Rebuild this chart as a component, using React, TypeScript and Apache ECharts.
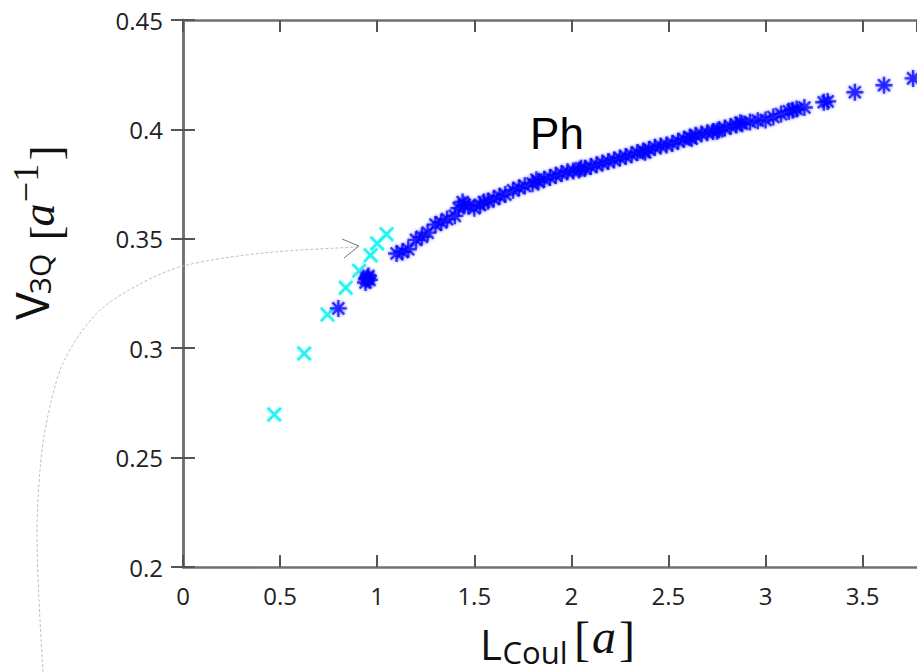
import React, { useEffect, useRef } from "react";
import * as echarts from "echarts";

// Cyan "x" markers
const cyanX = [0.47, 0.624, 0.744, 0.838, 0.907, 0.966, 1.0, 1.048];
const cyanY = [0.2697, 0.2976, 0.3154, 0.3276, 0.3354, 0.3425, 0.3479, 0.3521];

// Blue "*" markers (Ph)
const phX = [
  0.8, 0.94, 0.945, 0.95, 0.955, 0.96, 1.1, 1.13, 1.16, 1.2, 1.23, 1.26, 1.3, 1.33, 1.36, 1.4, 1.42,
  1.44, 1.45, 1.47, 1.5, 1.53, 1.55, 1.57, 1.6, 1.63, 1.66, 1.7, 1.73, 1.76, 1.8, 1.82, 1.83, 1.86,
  1.89, 1.92, 1.95, 1.98, 2.01, 2.04, 2.05, 2.07, 2.1, 2.13, 2.16, 2.19, 2.22, 2.25, 2.28, 2.31,
  2.34, 2.37, 2.38, 2.4, 2.43, 2.46, 2.49, 2.52, 2.55, 2.58, 2.61, 2.62, 2.64, 2.67, 2.7, 2.73,
  2.75, 2.76, 2.79, 2.82, 2.85, 2.87, 2.88, 2.92, 2.96, 3.0, 3.04, 3.08, 3.12, 3.14, 3.16, 3.2,
  3.3, 3.32, 3.46, 3.61, 3.76,
];
const phY = [
  0.3182, 0.33, 0.3315, 0.3322, 0.333, 0.3312, 0.3433, 0.344, 0.3452, 0.3495, 0.3509, 0.3528,
  0.3565, 0.3575, 0.359, 0.3605, 0.364, 0.3668, 0.3655, 0.365, 0.364, 0.3655, 0.3668, 0.3672,
  0.3682, 0.3695, 0.3702, 0.3722, 0.3732, 0.3742, 0.3752, 0.377, 0.376, 0.3772, 0.378, 0.379,
  0.3798, 0.3806, 0.381, 0.3814, 0.3822, 0.3822, 0.383, 0.3838, 0.3846, 0.3853, 0.386, 0.3869,
  0.3876, 0.3884, 0.3894, 0.3901, 0.3895, 0.3908, 0.3918, 0.3924, 0.3929, 0.3936, 0.3946, 0.3955,
  0.3964, 0.3958, 0.3973, 0.3979, 0.3985, 0.399, 0.3992, 0.3998, 0.4006, 0.4013, 0.402, 0.403,
  0.4026, 0.4034, 0.404, 0.4043, 0.4057, 0.407, 0.4083, 0.4088, 0.4093, 0.41, 0.4124, 0.4128,
  0.417, 0.4202, 0.4233,
];

const xMin = 0;
const xMax = 3.78;
const xStep = 0.5;
const yMin = 0.2;
const yMax = 0.45;
const yStep = 0.05;

const CROSS =
  "path://M-8.0,-6.1L6.1,8.0L8.0,6.1L-6.1,-8.0Z M-6.1,8.0L8.0,-6.1L6.1,-8.0L-8.0,6.1Z";
const STAR =
  "path://M-1.4,-10V10H1.4V-10Z M-10,-1.4V1.4H10V-1.4Z M-8.0,-6.0L6.0,8.0L8.0,6.0L-6.0,-8.0Z M-6.0,8.0L8.0,-6.0L6.0,-8.0L-8.0,6.0Z";

const axisGray = "#707070";

export default function App() {
  const ref = useRef<HTMLDivElement>(null);
  useEffect(() => {
    const chart = echarts.init(ref.current!, null, { renderer: "svg" });
    const tickLabel = { color: "#222", fontSize: 24, fontFamily: "Open Sans" };
    const xBase = {
      type: "value" as const,
      min: xMin,
      max: xMax,
      interval: xStep,
      splitLine: { show: false },
      axisLine: { show: true, lineStyle: { color: axisGray, width: 2.5 } },
      axisTick: { show: true, inside: true, length: 12, lineStyle: { color: "#555", width: 2 } },
    };
    const yBase = {
      type: "value" as const,
      min: yMin,
      max: yMax,
      interval: yStep,
      splitLine: { show: false },
      axisLine: { show: true, lineStyle: { color: axisGray, width: 2.5 } },
      axisTick: { show: true, inside: true, length: 12, lineStyle: { color: "#555", width: 2 } },
    };
    const serif = '"Liberation Serif", "Times New Roman", serif';
    const sans = '"Open Sans", sans-serif';
    const option = {
      animation: false,
      backgroundColor: "#fff",
      grid: { left: 183, top: 20, width: 735, height: 547, containLabel: false },
      xAxis: [
        {
          ...xBase,
          position: "bottom",
          axisLabel: { ...tickLabel, margin: 16, showMaxLabel: false },
        },
        { ...xBase, position: "top", axisLabel: { show: false } },
      ],
      yAxis: [
        { ...yBase, position: "left", axisLabel: { ...tickLabel, margin: 20 } },
        { ...yBase, position: "right", axisLabel: { show: false } },
      ],
      series: [
        {
          type: "scatter",
          name: "cyan",
          symbol: CROSS,
          symbolSize: 15,
          itemStyle: { color: "#1ef2f2", opacity: 0.95, shadowBlur: 2, shadowColor: "rgba(0,240,240,0.6)" },
          data: cyanX.map((x, i) => [x, cyanY[i]]),
          z: 2,
        },
        {
          type: "scatter",
          name: "Ph",
          symbol: STAR,
          symbolSize: 17,
          itemStyle: { color: "#0000ff", opacity: 0.72, shadowBlur: 3, shadowColor: "rgba(0,0,255,0.7)" },
          data: phX.map((x, i) => [x, phY[i]]),
          z: 3,
        },
      ],
      graphic: [
        {
          type: "polyline",
          silent: true,
          shape: {
            points: [
              [43, 672],
              [39, 600],
              [37, 530],
              [40, 470],
              [46, 425],
              [63, 363],
              [97, 313],
              [140, 284],
              [183, 266],
              [263, 253],
              [358, 247],
            ],
            smooth: 0.3,
          },
          style: { stroke: "#b8b8b8", lineWidth: 0.9, lineDash: [3, 2], fill: null },
          z: 10,
        },
        {
          type: "polyline",
          silent: true,
          shape: { points: [[342, 239], [359, 246], [344, 258]] },
          style: { stroke: "#777", lineWidth: 1, fill: null },
          z: 10,
        },
        {
          type: "text",
          silent: true,
          x: 557,
          y: 133,
          style: {
            text: "Ph",
            font: '44px "Liberation Sans", Arial, sans-serif',
            fill: "#000",
            align: "center",
            verticalAlign: "middle",
          },
          z: 10,
        },
        // x axis name: L_Coul[a]
        {
          type: "group",
          silent: true,
          children: [
            { type: "text", x: 491, y: 643, style: { text: "L", font: `42px ${sans}`, fill: "#111", align: "center", verticalAlign: "middle" } },
            { type: "text", x: 535, y: 652, style: { text: "Coul", font: `31px ${sans}`, fill: "#111", align: "center", verticalAlign: "middle" } },
            { type: "text", x: 582, y: 638, style: { text: "[", font: `48px ${serif}`, fill: "#111", align: "center", verticalAlign: "middle" } },
            { type: "text", x: 604, y: 636, style: { text: "a", font: `italic 48px ${serif}`, fill: "#111", align: "center", verticalAlign: "middle" } },
            { type: "text", x: 627, y: 638, style: { text: "]", font: `48px ${serif}`, fill: "#111", align: "center", verticalAlign: "middle" } },
          ],
        },
        // y axis name: V_3Q [a^-1]
        {
          type: "group",
          silent: true,
          x: 48,
          y: 330,
          rotation: Math.PI / 2,
          children: [
            { type: "text", x: 24, y: -17, style: { text: "V", font: `46px ${sans}`, fill: "#111", align: "center", verticalAlign: "middle" } },
            { type: "text", x: 56, y: -9, style: { text: "3Q", font: `30px ${sans}`, fill: "#111", align: "center", verticalAlign: "middle" } },
            { type: "text", x: 97, y: -2, style: { text: "[", font: `44px ${serif}`, fill: "#111", align: "center", verticalAlign: "middle" } },
            { type: "text", x: 115, y: -10, style: { text: "a", font: `italic 46px ${serif}`, fill: "#111", align: "center", verticalAlign: "middle" } },
            { type: "text", x: 147, y: -22, style: { text: "−1", font: `36px ${serif}`, fill: "#111", align: "center", verticalAlign: "middle" } },
            { type: "text", x: 177, y: -2, style: { text: "]", font: `44px ${serif}`, fill: "#111", align: "center", verticalAlign: "middle" } },
          ],
        },
      ],
    };
    chart.setOption(option as any);
    return () => chart.dispose();
  }, []);
  return (
    <div
      ref={ref}
      style={{ position: "absolute", left: 0, top: 0, width: 917, height: 672, background: "#fff" }}
    />
  );
}
